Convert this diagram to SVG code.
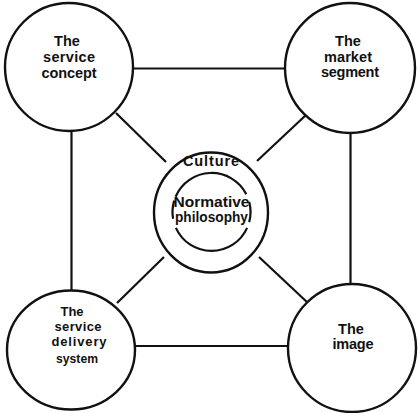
<svg xmlns="http://www.w3.org/2000/svg" width="419" height="413" viewBox="0 0 419 413">
  <style>
    .ring { fill: #ffffff; stroke: #111111; stroke-width: 2.4; }
    .link { fill: none; stroke: #111111; stroke-width: 2.2; }
    .arc { fill: none; stroke: #111111; stroke-width: 2.2; }
    .lbl { font-family: "Liberation Sans", Arial, sans-serif; font-weight: bold; font-size: 14.5px; fill: #111111; text-anchor: middle; }
    .sm { font-size: 13px; }
  </style>
  <rect width="419" height="413" fill="#ffffff"/>

  <!-- connectors between the four outer elements and the central culture ring -->
  <g id="connectors">
    <line class="link" x1="133" y1="68.5" x2="285" y2="68.5"/>
    <line class="link" x1="135" y1="346" x2="288" y2="346"/>
    <line class="link" x1="71.5" y1="131" x2="71.5" y2="291"/>
    <line class="link" x1="350.5" y1="133" x2="350.5" y2="284"/>
    <line class="link" x1="116" y1="113" x2="166" y2="162"/>
    <line class="link" x1="306" y1="115" x2="257" y2="161"/>
    <line class="link" x1="117" y1="303" x2="164" y2="257"/>
    <line class="link" x1="308" y1="303" x2="259" y2="257"/>
  </g>

  <g id="service-concept">
    <circle class="ring" cx="69" cy="67" r="64"/>
    <text class="lbl" x="67" y="46">The</text>
    <text class="lbl" x="69" y="62" textLength="52" lengthAdjust="spacing">service</text>
    <text class="lbl" x="69" y="78" textLength="55" lengthAdjust="spacing">concept</text>
  </g>

  <g id="market-segment">
    <circle class="ring" cx="350" cy="68" r="65"/>
    <text class="lbl" x="348" y="46">The</text>
    <text class="lbl" x="348" y="62" textLength="48" lengthAdjust="spacing">market</text>
    <text class="lbl" x="350" y="77" textLength="58" lengthAdjust="spacing">segment</text>
  </g>

  <g id="service-delivery-system">
    <ellipse class="ring" cx="71" cy="350" rx="64" ry="59.5"/>
    <text class="lbl sm" x="72" y="316">The</text>
    <text class="lbl sm" x="78" y="331" textLength="47" lengthAdjust="spacing">service</text>
    <text class="lbl sm" x="79" y="346" textLength="55" lengthAdjust="spacing">delivery</text>
    <text class="lbl sm" x="77" y="363" textLength="42" lengthAdjust="spacingAndGlyphs">system</text>
  </g>

  <g id="image">
    <circle class="ring" cx="352" cy="348" r="64"/>
    <text class="lbl" x="351" y="334">The</text>
    <text class="lbl" x="353" y="348.5" textLength="41" lengthAdjust="spacing">image</text>
  </g>

  <g id="culture">
    <ellipse class="ring" cx="211" cy="212.5" rx="57" ry="60"/>
    <text class="lbl" x="211" y="166" textLength="56" lengthAdjust="spacing">Culture</text>
  </g>

  <g id="normative-philosophy">
    <path class="arc" d="M175.6 196.8 A39 39 0 0 1 246.3 194.3"/>
    <path class="arc" d="M249.2 201.9 A39 39 0 0 1 249.2 222.1"/>
    <path class="arc" d="M247.1 227.9 A39 39 0 0 1 175.9 227.9"/>
    <path class="arc" d="M173.1 218.8 A39 39 0 0 1 174.2 200.6"/>
    <text class="lbl" x="211.5" y="206.5" textLength="76" lengthAdjust="spacingAndGlyphs">Normative</text>
    <text class="lbl" x="211.5" y="221.5" textLength="73" lengthAdjust="spacingAndGlyphs">philosophy</text>
  </g>
</svg>
